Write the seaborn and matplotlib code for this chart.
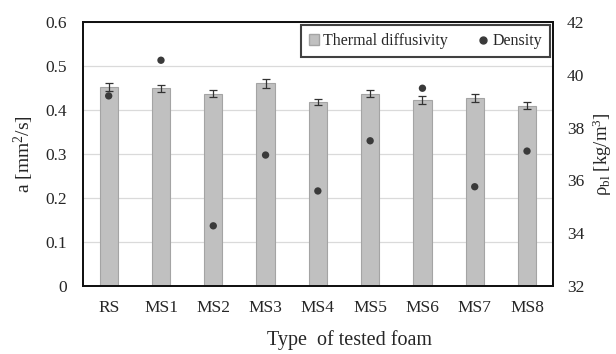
import matplotlib
matplotlib.use("Agg")
import matplotlib.pyplot as plt
import seaborn as sns
import pandas as pd
from matplotlib.lines import Line2D
from matplotlib.patches import Patch

foams = ["RS", "MS1", "MS2", "MS3", "MS4", "MS5", "MS6", "MS7", "MS8"]
diffusivity = [0.452, 0.449, 0.437, 0.461, 0.418, 0.437, 0.422, 0.428, 0.410]
diff_err = [0.010, 0.008, 0.008, 0.010, 0.006, 0.008, 0.009, 0.009, 0.007]
density = [39.2, 40.55, 34.28, 36.96, 35.6, 37.5, 39.49, 35.76, 37.11]

sns.set_style("white")
plt.rcParams["font.family"] = ["Liberation Serif", "DejaVu Serif"]
plt.rcParams["mathtext.fontset"] = "custom"
plt.rcParams["mathtext.rm"] = "Liberation Serif"
plt.rcParams["mathtext.it"] = "Liberation Serif:italic"

df = pd.DataFrame({"foam": foams, "a": diffusivity, "err": diff_err, "rho": density})

fig = plt.figure(figsize=(6.16, 3.54), dpi=100)
ax = fig.add_axes([0.134, 0.192, 0.764, 0.746])
sns.barplot(data=df, x="foam", y="a", ax=ax, color="#c0c0c0", saturation=1,
            width=0.35, edgecolor="#a4a4a4", linewidth=0.8, errorbar=None, zorder=2)
ax.errorbar(range(len(foams)), df["a"], yerr=df["err"], fmt="none",
            ecolor="#333333", elinewidth=0.9, capsize=3, capthick=0.9, zorder=3)
ax.set_ylim(0, 0.6)
ax.set_yticks([0, 0.1, 0.2, 0.3, 0.4, 0.5, 0.6])
ax.set_yticklabels(["0", "0.1", "0.2", "0.3", "0.4", "0.5", "0.6"])
ax.yaxis.grid(True, color="#dadada", linewidth=0.9, zorder=0)
ax.set_axisbelow(True)
ax.set_xlim(-0.5, len(foams) - 0.5)
ax.set_xlabel("Type  of tested foam", fontsize=14.5, labelpad=10, x=0.568)
ax.set_ylabel("a [mm$^2$/s]", fontsize=14, labelpad=7)
ax.tick_params(axis="x", labelsize=12.5, length=0, pad=10)
ax.tick_params(axis="y", labelsize=12.5, length=0, pad=11)
for s in ax.spines.values():
    s.set_color("#111111")
    s.set_linewidth(1.3)

ax2 = ax.twinx()
sns.scatterplot(data=df, x="foam", y="rho", ax=ax2, color="#3a3a3a", s=28,
                edgecolor="none", zorder=4)
ax2.set_ylim(32, 42)
ax2.set_yticks([32, 34, 36, 38, 40, 42])
ax2.set_ylabel("ρ$_{\\mathrm{bl}}$ [kg/m$^{3}$]", fontsize=13.5, labelpad=4)
ax2.tick_params(axis="y", labelsize=12.5, length=0, pad=10)
ax2.set_xlim(-0.5, len(foams) - 0.5)
for s in ax2.spines.values():
    s.set_color("#111111")
    s.set_linewidth(1.3)

handles = [Patch(facecolor="#c0c0c0", edgecolor="#a4a4a4", label="Thermal diffusivity"),
           Line2D([0], [0], marker="o", linestyle="none", color="#3a3a3a",
                  markersize=5, label="Density")]
leg = ax2.legend(handles=handles, loc="upper right", ncol=2, fontsize=11.5,
                 frameon=True, fancybox=False, edgecolor="#111111",
                 handlelength=0.65, handleheight=0.65, handletextpad=0.25,
                 columnspacing=1.9, borderaxespad=0.2, borderpad=0.5)
leg.get_frame().set_linewidth(1.5)

fig.savefig("out.png", dpi=100)
